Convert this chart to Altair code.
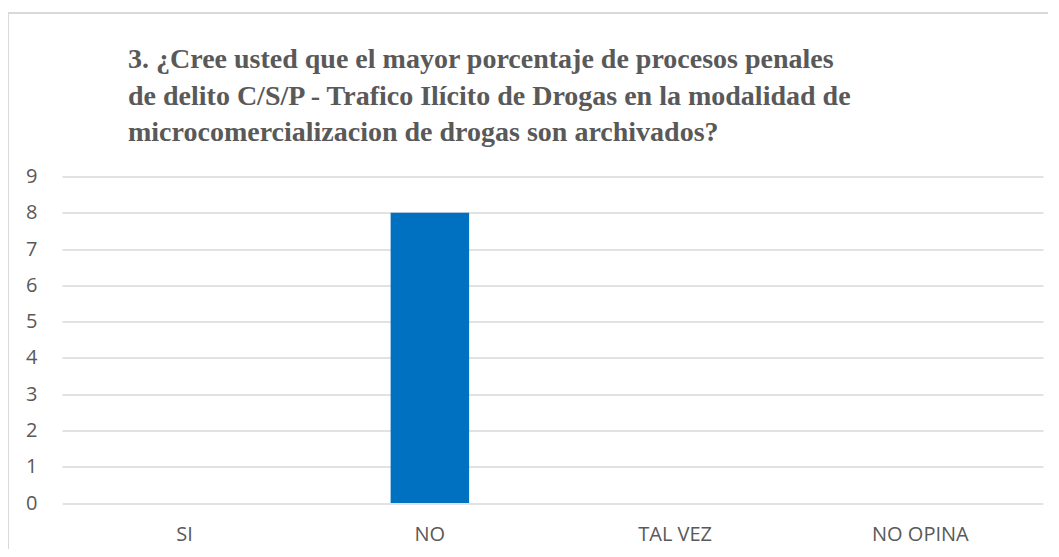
import altair as alt
import pandas as pd

categories = ["SI", "NO", "TAL VEZ", "NO OPINA"]
values = [0, 8, 0, 0]
y_ticks = [0, 1, 2, 3, 4, 5, 6, 7, 8, 9]
title_lines = [
    "3. ¿Cree usted que el mayor porcentaje de procesos penales",
    "de delito C/S/P - Trafico Ilícito de Drogas en la modalidad de",
    "microcomercializacion de drogas son archivados?",
]

df = pd.DataFrame({"cat": categories, "val": values})

bars = alt.Chart(df).mark_bar(color="#0070C0").encode(
    x=alt.X(
        "cat:N",
        sort=categories,
        title=None,
        scale=alt.Scale(paddingInner=0.68, paddingOuter=0.34),
        axis=alt.Axis(
            labelAngle=0,
            domain=False,
            ticks=False,
            grid=False,
            labelPadding=21,
            labelFont="Open Sans",
            labelFontSize=20,
            labelColor="#595959",
        ),
    ),
    y=alt.Y(
        "val:Q",
        title=None,
        scale=alt.Scale(domain=[0, 9], nice=False),
        axis=alt.Axis(
            values=y_ticks,
            domain=False,
            ticks=False,
            grid=True,
            gridColor="#d9d9d9",
            gridWidth=1.5,
            labelPadding=25,
            labelFont="Open Sans",
            labelFontSize=20,
            labelColor="#595959",
        ),
    ),
)

frame = alt.Chart(df).mark_rect(
    fill="transparent", stroke="#d9d9d9", strokeWidth=1.5, clip=False
).encode(
    x=alt.value(-54),
    x2=alt.value(1010),
    y=alt.value(-163.5),
    y2=alt.value(520),
)

chart = alt.layer(frame, bars).properties(
    width=981,
    height=326.5,
    autosize=alt.AutoSizeParams(type="none"),
    padding={"left": 54, "top": 168.5, "right": 5, "bottom": 46},
    title=alt.TitleParams(
        text=title_lines,
        anchor="start",
        frame="group",
        dx=66,
        dy=157,
        offset=0,
        baseline="alphabetic",
        font="Liberation Serif",
        fontSize=28,
        fontWeight="bold",
        color="#595959",
        lineHeight=36.5,
    ),
).configure_view(stroke=None)

chart.save("out.html", embed_options={"renderer": "svg", "actions": False})
